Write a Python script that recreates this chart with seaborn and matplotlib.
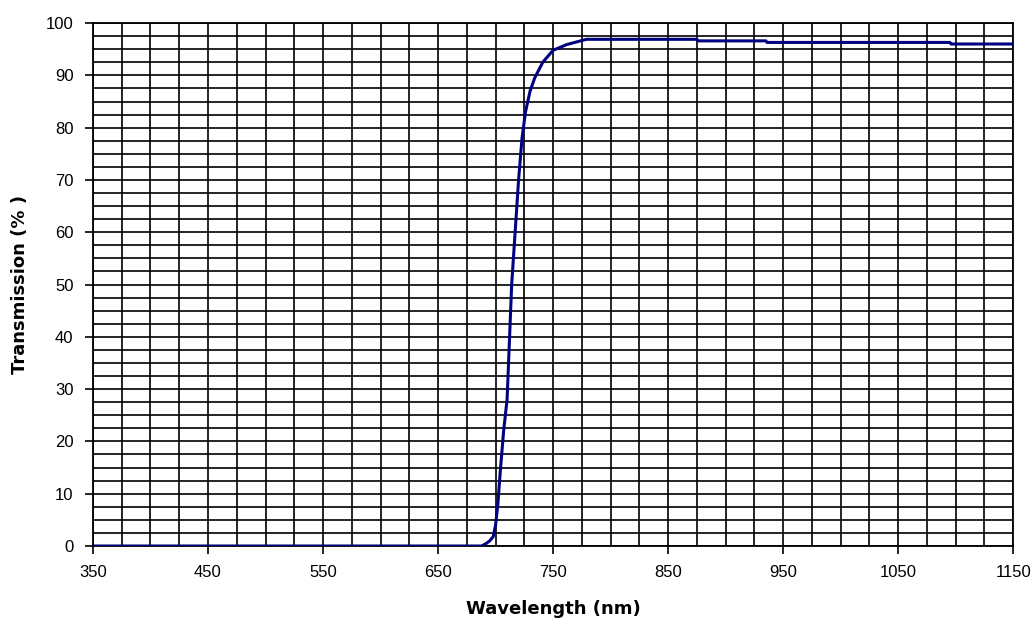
import numpy as np
import pandas as pd
import matplotlib
matplotlib.use("Agg")
import matplotlib.pyplot as plt
from matplotlib.ticker import MultipleLocator
import seaborn as sns

# Transmission curve
wavelength = [350, 688, 692, 695, 698, 700, 702, 704, 707, 710, 714, 717, 720,
              723, 726, 730, 734, 741, 750, 762, 779, 875, 876, 935, 936,
              1095, 1096, 1150]
transmission = [0, 0, 0.5, 1.0, 1.8, 4, 8, 14, 22, 28, 50, 60, 70,
                78, 83, 87, 89.5, 92.5, 94.8, 95.9, 96.9, 96.9, 96.6, 96.6, 96.3,
                96.3, 96.0, 96.0]

x_ticks = [350, 450, 550, 650, 750, 850, 950, 1050, 1150]
y_ticks = [0, 10, 20, 30, 40, 50, 60, 70, 80, 90, 100]

df = pd.DataFrame({"Wavelength": wavelength, "Transmission": transmission})

sns.set_style("white")
plt.rcParams['font.family'] = ['Liberation Sans', 'DejaVu Sans']

fig = plt.figure(figsize=(10.34, 6.24), dpi=100)
ax = fig.add_axes([0.0899, 0.125, 0.89, 0.838])

sns.lineplot(data=df, x="Wavelength", y="Transmission", ax=ax,
             color="#000080", linewidth=2.2, zorder=5)

ax.set_xlim(350, 1150)
ax.set_ylim(0, 100)
ax.set_xticks(x_ticks)
ax.set_yticks(y_ticks)
ax.xaxis.set_minor_locator(MultipleLocator(25))
ax.yaxis.set_minor_locator(MultipleLocator(2.5))
ax.grid(which="both", color="black", linewidth=1.2)
ax.set_axisbelow(True)

ax.tick_params(which="major", direction="out", length=6, width=1.2,
               color="black", labelcolor="black", labelsize=12, pad=8,
               left=True, bottom=True)
ax.tick_params(which="minor", length=0)
for s in ax.spines.values():
    s.set_color("black")
    s.set_linewidth(1.3)

ax.set_xlabel("Wavelength (nm)", fontsize=13, fontweight="bold",
              family="DejaVu Sans", color="black", labelpad=14)
ax.set_ylabel("Transmission (% )", fontsize=13, fontweight="bold",
              family="DejaVu Sans", color="black", labelpad=12)

fig.savefig("out.png", dpi=100)
